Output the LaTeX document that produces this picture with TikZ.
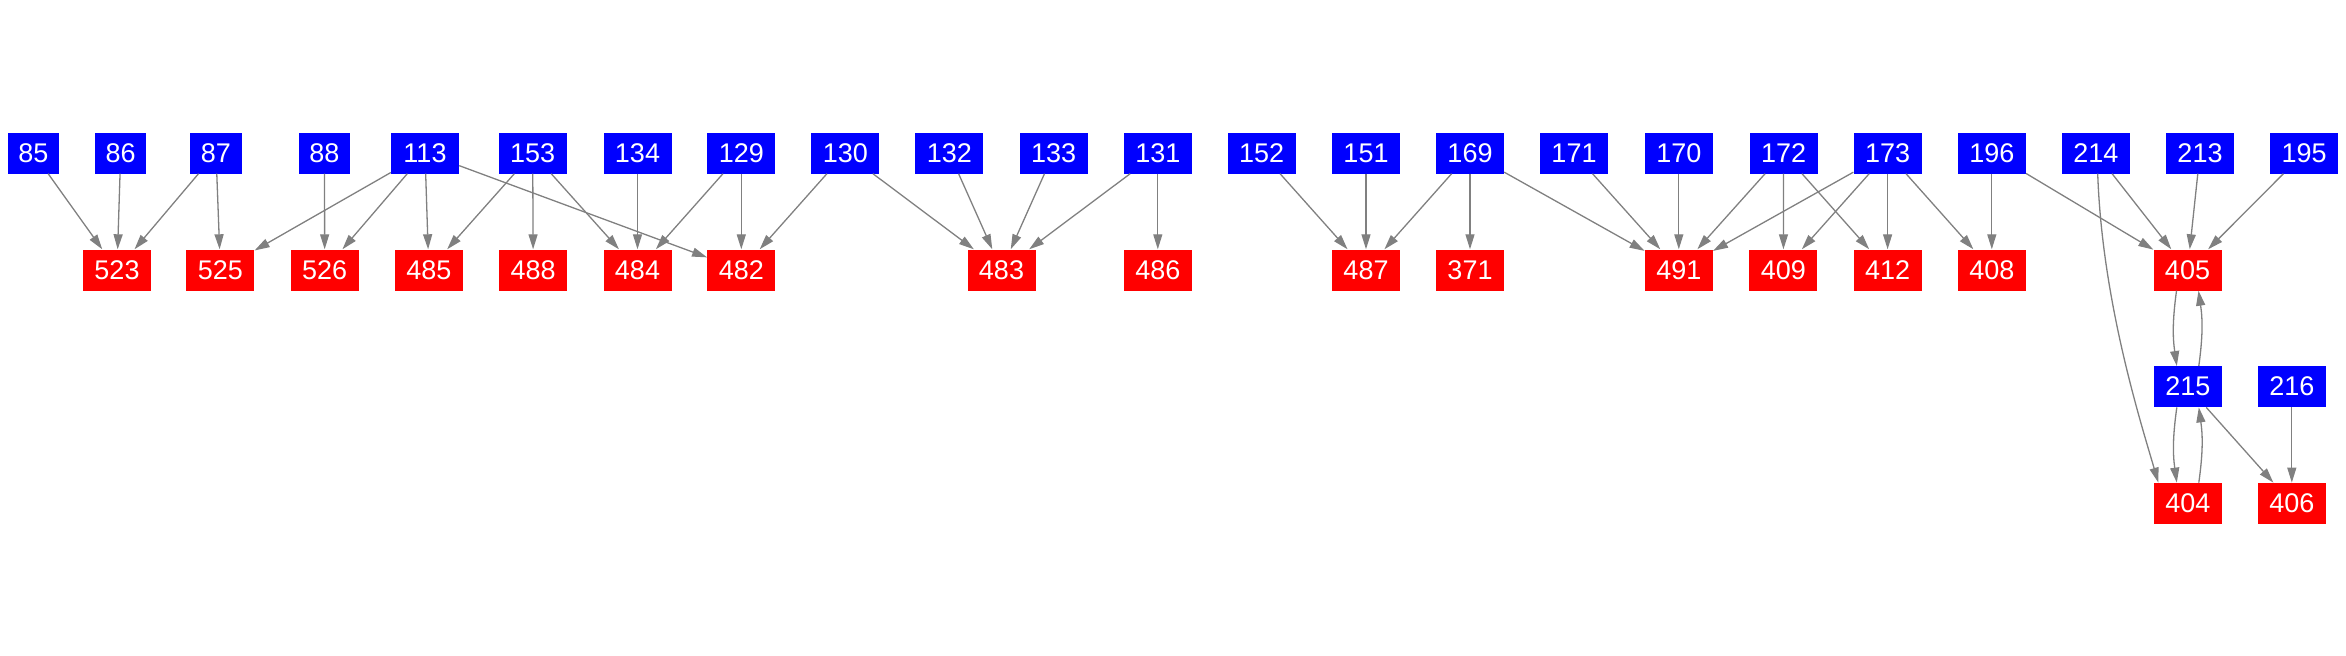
\documentclass[tikz,border=0pt]{standalone}
\usepackage{fontspec}
\setmainfont{Liberation Sans}
\usetikzlibrary{arrows.meta}
\definecolor{nblue}{RGB}{0,0,255}
\definecolor{nred}{RGB}{255,0,0}
\definecolor{egray}{RGB}{128,128,128}
\tikzset{
  nbox/.style={rectangle, inner sep=0pt, minimum width=68pt, minimum height=41pt,
    text=white, font=\fontsize{27}{30}\selectfont},
  src/.style={nbox, fill=nblue},
  dst/.style={nbox, fill=nred},
  narrow/.style={minimum width=51.5pt},
  edge/.style={draw=egray, line width=1.3pt, -{Triangle[length=15pt,width=9pt]}, fill=none},
}
\begin{document}
\begin{tikzpicture}[x=1pt,y=-1pt]
\useasboundingbox (0,0) rectangle (2346,656);
% row 1 (sources)
\node[src,narrow] (n85) at (33.4,153) {85};
\node[src,narrow] (n86) at (120.7,153) {86};
\node[src,narrow] (n87) at (216,153) {87};
\node[src,narrow] (n88) at (324.5,153) {88};
\node[src] (n113) at (425,153) {113};
\node[src] (n153) at (532.7,153) {153};
\node[src] (n134) at (637.5,153) {134};
\node[src] (n129) at (741.3,153) {129};
\node[src] (n130) at (845.3,153) {130};
\node[src] (n132) at (949.4,153) {132};
\node[src] (n133) at (1053.7,153) {133};
\node[src] (n131) at (1157.8,153) {131};
\node[src] (n152) at (1261.6,153) {152};
\node[src] (n151) at (1366,153) {151};
\node[src] (n169) at (1470,153) {169};
\node[src] (n171) at (1574,153) {171};
\node[src] (n170) at (1678.8,153) {170};
\node[src] (n172) at (1783.6,153) {172};
\node[src] (n173) at (1887.6,153) {173};
\node[src] (n196) at (1991.8,153) {196};
\node[src] (n214) at (2095.9,153) {214};
\node[src] (n213) at (2200,153) {213};
\node[src] (n195) at (2304,153) {195};
% row 2 (targets)
\node[dst] (n523) at (117,270) {523};
\node[dst] (n525) at (220.4,270) {525};
\node[dst] (n526) at (324.7,270) {526};
\node[dst] (n485) at (428.8,270) {485};
\node[dst] (n488) at (533.2,270) {488};
\node[dst] (n484) at (637.5,270) {484};
\node[dst] (n482) at (741.3,270) {482};
\node[dst] (n483) at (1001.5,270) {483};
\node[dst] (n486) at (1157.8,270) {486};
\node[dst] (n487) at (1366,270) {487};
\node[dst] (n371) at (1470,270) {371};
\node[dst] (n491) at (1678.8,270) {491};
\node[dst] (n409) at (1783.4,270) {409};
\node[dst] (n412) at (1887.6,270) {412};
\node[dst] (n408) at (1991.8,270) {408};
\node[dst] (n405) at (2187.5,270) {405};
% rows 3-4
\node[src] (n215) at (2187.8,386.7) {215};
\node[src] (n216) at (2291.8,386.7) {216};
\node[dst] (n404) at (2187.8,503.3) {404};
\node[dst] (n406) at (2291.8,503.3) {406};
% edges
\foreach \a/\b in {85/523,86/523,87/523,87/525,113/525,88/526,113/526,113/485,153/485,
  153/488,153/484,134/484,129/484,113/482,129/482,130/482,130/483,132/483,133/483,
  131/483,131/486,152/487,151/487,169/487,169/371,169/491,171/491,170/491,172/491,
  173/491,172/409,173/409,172/412,173/412,173/408,196/408,196/405,214/405,213/405,
  195/405,215/406,216/406}
  \draw[edge] (n\a) -- (n\b);
\draw[edge] ([xshift=-11pt]n405.south) to[bend right=8] ([xshift=-11pt]n215.north);
\draw[edge] ([xshift=11pt]n215.north) to[bend right=8] ([xshift=11pt]n405.south);
\draw[edge] ([xshift=-11pt]n215.south) to[bend right=8] ([xshift=-11pt]n404.north);
\draw[edge] ([xshift=11pt]n404.north) to[bend right=8] ([xshift=11pt]n215.south);
\draw[edge] ([xshift=1.8pt]n214.south) .. controls (2102,300) and (2140,420) .. ([xshift=-29.5pt]n404.north);
\end{tikzpicture}
\end{document}
